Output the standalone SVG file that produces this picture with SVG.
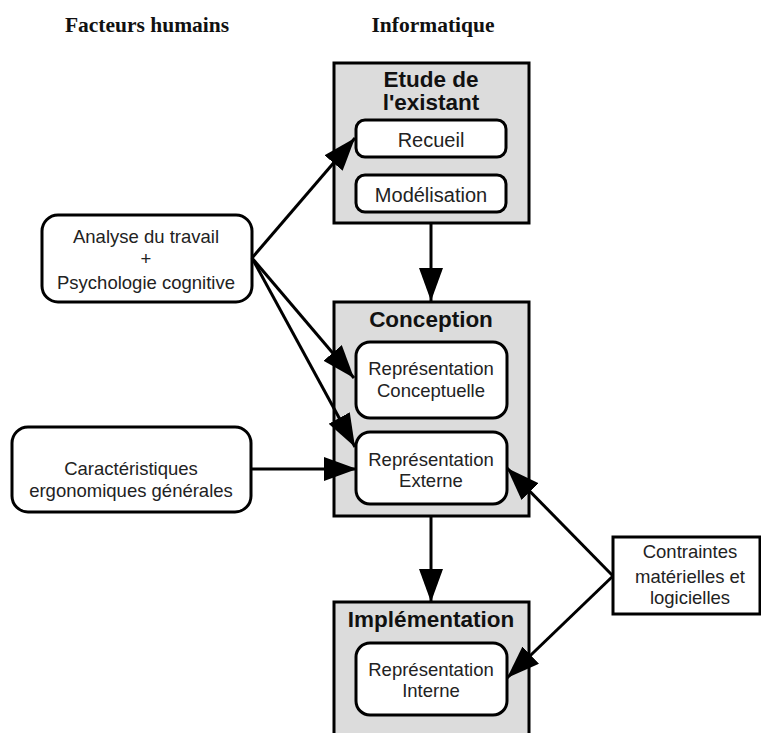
<svg xmlns="http://www.w3.org/2000/svg" width="761" height="733" viewBox="0 0 761 733">
  <defs>
    <marker id="head" markerUnits="userSpaceOnUse" markerWidth="34" markerHeight="26" refX="33" refY="12" orient="auto">
      <path d="M0,0 L33,12 L0,24 Z" fill="#000"/>
    </marker>
    <style>
      .col { font-family: "Liberation Serif", "Times New Roman", serif; font-weight: bold; font-size: 21.5px; fill: #111; text-anchor: middle; }
      .phase { fill: #dcdcdc; stroke: #000; stroke-width: 3; }
      .sub { fill: #fff; stroke: #000; stroke-width: 3; }
      .src { fill: #fff; stroke: #000; stroke-width: 3; }
      .title { font-family: "Liberation Sans", Arial, sans-serif; font-weight: bold; font-size: 22.5px; fill: #111; text-anchor: middle; }
      .lbl { font-family: "Liberation Sans", Arial, sans-serif; font-size: 18.5px; fill: #222; text-anchor: middle; }
      .lbl-lg { font-family: "Liberation Sans", Arial, sans-serif; font-size: 20px; fill: #222; text-anchor: middle; }
      .conn { stroke: #000; stroke-width: 3; fill: none; marker-end: url(#head); }
    </style>
  </defs>

  <rect width="761" height="733" fill="#fff"/>

  <!-- column headings -->
  <text class="col" x="147" y="32">Facteurs humains</text>
  <text class="col" x="433" y="32">Informatique</text>

  <!-- phase: study of the existing -->
  <g id="etude">
    <rect class="phase" x="334" y="63" width="195" height="160"/>
    <text class="title" x="431" y="87">Etude de</text>
    <text class="title" x="431" y="110">l'existant</text>
    <g id="recueil">
      <rect class="sub" x="356" y="120" width="150" height="37" rx="9"/>
      <text class="lbl-lg" x="431" y="147">Recueil</text>
    </g>
    <g id="modelisation">
      <rect class="sub" x="356" y="175" width="150" height="37" rx="9"/>
      <text class="lbl-lg" x="431" y="202">Modélisation</text>
    </g>
  </g>

  <!-- phase: design -->
  <g id="conception">
    <rect class="phase" x="334" y="302" width="195" height="214"/>
    <text class="title" x="431" y="327">Conception</text>
    <g id="rep-conceptuelle">
      <rect class="sub" x="356" y="342" width="151" height="76" rx="14"/>
      <text class="lbl" x="431" y="375">Représentation</text>
      <text class="lbl" x="431" y="397">Conceptuelle</text>
    </g>
    <g id="rep-externe">
      <rect class="sub" x="356" y="432" width="151" height="72" rx="14"/>
      <text class="lbl" x="431" y="466">Représentation</text>
      <text class="lbl" x="431" y="487">Externe</text>
    </g>
  </g>

  <!-- phase: implementation -->
  <g id="implementation">
    <rect class="phase" x="334" y="602" width="195" height="140"/>
    <text class="title" x="431" y="627">Implémentation</text>
    <g id="rep-interne">
      <rect class="sub" x="356" y="643" width="151" height="72" rx="14"/>
      <text class="lbl" x="431" y="676">Représentation</text>
      <text class="lbl" x="431" y="697">Interne</text>
    </g>
  </g>

  <!-- human factors inputs -->
  <g id="analyse">
    <rect class="src" x="42" y="215" width="210" height="87" rx="16"/>
    <text class="lbl" x="146" y="243">Analyse du travail</text>
    <text class="lbl" x="146" y="265">+</text>
    <text class="lbl" x="146" y="289">Psychologie cognitive</text>
  </g>

  <g id="caracteristiques">
    <rect class="src" x="12" y="427" width="239" height="85" rx="16"/>
    <text class="lbl" x="131" y="475">Caractéristiques</text>
    <text class="lbl" x="131" y="497">ergonomiques générales</text>
  </g>

  <!-- technical constraints -->
  <g id="contraintes">
    <rect class="src" x="613" y="537" width="147" height="77"/>
    <text class="lbl" x="690" y="558">Contraintes</text>
    <text class="lbl" x="690" y="583">matérielles et</text>
    <text class="lbl" x="690" y="604">logicielles</text>
  </g>

  <!-- connectors -->
  <g id="connectors">
    <line class="conn" x1="252" y1="258" x2="355" y2="138"/>
    <line class="conn" x1="252" y1="258" x2="354" y2="378"/>
    <line class="conn" x1="252" y1="258" x2="355" y2="447"/>
    <line class="conn" x1="251" y1="469" x2="357" y2="469"/>
    <line class="conn" x1="431" y1="223" x2="431" y2="301"/>
    <line class="conn" x1="431" y1="516" x2="431" y2="602"/>
    <line class="conn" x1="613" y1="576" x2="507" y2="468"/>
    <line class="conn" x1="613" y1="576" x2="507" y2="678"/>
  </g>
</svg>
